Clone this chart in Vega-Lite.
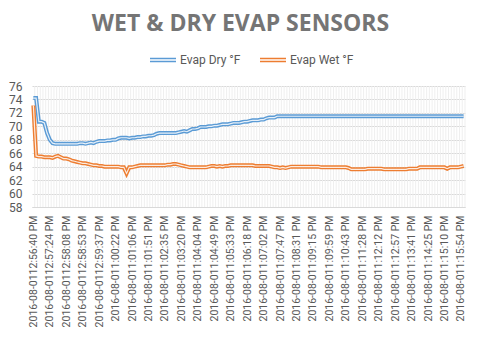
{
  "$schema": "https://vega.github.io/schema/vega-lite/v6.json",
  "width": 433,
  "height": 121,
  "autosize": {"type": "none"},
  "padding": {"left": 32, "top": 86, "right": 15, "bottom": 135},
  "background": "white",
  "title": {
    "text": "WET & DRY EVAP SENSORS",
    "font": "Open Sans",
    "fontSize": 23,
    "fontWeight": "bold",
    "color": "#757575",
    "anchor": "middle",
    "dx": -8,
    "offset": 10
  },
  "config": {
    "view": {"stroke": null},
    "axis": {"labelFont": "Roboto", "labelColor": "#595959"}
  },
  "data": {
    "values": [
      {"i":0,"Evap Dry °F":74.2,"Evap Wet °F":73.1},
      {"i":1,"Evap Dry °F":74.2,"Evap Wet °F":65.6},
      {"i":2,"Evap Dry °F":70.7,"Evap Wet °F":65.5},
      {"i":3,"Evap Dry °F":70.7,"Evap Wet °F":65.5},
      {"i":4,"Evap Dry °F":70.5,"Evap Wet °F":65.4},
      {"i":5,"Evap Dry °F":69.0,"Evap Wet °F":65.4},
      {"i":6,"Evap Dry °F":68.0,"Evap Wet °F":65.4},
      {"i":7,"Evap Dry °F":67.5,"Evap Wet °F":65.3},
      {"i":8,"Evap Dry °F":67.4,"Evap Wet °F":65.5},
      {"i":9,"Evap Dry °F":67.4,"Evap Wet °F":65.6},
      {"i":10,"Evap Dry °F":67.4,"Evap Wet °F":65.4},
      {"i":11,"Evap Dry °F":67.4,"Evap Wet °F":65.2},
      {"i":12,"Evap Dry °F":67.4,"Evap Wet °F":65.2},
      {"i":13,"Evap Dry °F":67.4,"Evap Wet °F":65.1},
      {"i":14,"Evap Dry °F":67.4,"Evap Wet °F":64.9},
      {"i":15,"Evap Dry °F":67.4,"Evap Wet °F":64.8},
      {"i":16,"Evap Dry °F":67.4,"Evap Wet °F":64.7},
      {"i":17,"Evap Dry °F":67.5,"Evap Wet °F":64.6},
      {"i":18,"Evap Dry °F":67.5,"Evap Wet °F":64.5},
      {"i":19,"Evap Dry °F":67.4,"Evap Wet °F":64.5},
      {"i":20,"Evap Dry °F":67.5,"Evap Wet °F":64.4},
      {"i":21,"Evap Dry °F":67.6,"Evap Wet °F":64.3},
      {"i":22,"Evap Dry °F":67.5,"Evap Wet °F":64.2},
      {"i":23,"Evap Dry °F":67.7,"Evap Wet °F":64.2},
      {"i":24,"Evap Dry °F":67.8,"Evap Wet °F":64.1},
      {"i":25,"Evap Dry °F":67.8,"Evap Wet °F":64.1},
      {"i":26,"Evap Dry °F":67.8,"Evap Wet °F":64.0},
      {"i":27,"Evap Dry °F":67.9,"Evap Wet °F":64.0},
      {"i":28,"Evap Dry °F":67.9,"Evap Wet °F":64.0},
      {"i":29,"Evap Dry °F":68.0,"Evap Wet °F":64.0},
      {"i":30,"Evap Dry °F":68.0,"Evap Wet °F":64.0},
      {"i":31,"Evap Dry °F":68.2,"Evap Wet °F":64.0},
      {"i":32,"Evap Dry °F":68.3,"Evap Wet °F":63.9},
      {"i":33,"Evap Dry °F":68.3,"Evap Wet °F":63.9},
      {"i":34,"Evap Dry °F":68.3,"Evap Wet °F":63.0},
      {"i":35,"Evap Dry °F":68.2,"Evap Wet °F":63.9},
      {"i":36,"Evap Dry °F":68.3,"Evap Wet °F":63.9},
      {"i":37,"Evap Dry °F":68.3,"Evap Wet °F":64.0},
      {"i":38,"Evap Dry °F":68.4,"Evap Wet °F":64.1},
      {"i":39,"Evap Dry °F":68.4,"Evap Wet °F":64.2},
      {"i":40,"Evap Dry °F":68.5,"Evap Wet °F":64.2},
      {"i":41,"Evap Dry °F":68.5,"Evap Wet °F":64.2},
      {"i":42,"Evap Dry °F":68.6,"Evap Wet °F":64.2},
      {"i":43,"Evap Dry °F":68.6,"Evap Wet °F":64.2},
      {"i":44,"Evap Dry °F":68.7,"Evap Wet °F":64.2},
      {"i":45,"Evap Dry °F":68.9,"Evap Wet °F":64.2},
      {"i":46,"Evap Dry °F":69.0,"Evap Wet °F":64.2},
      {"i":47,"Evap Dry °F":69.0,"Evap Wet °F":64.2},
      {"i":48,"Evap Dry °F":69.0,"Evap Wet °F":64.2},
      {"i":49,"Evap Dry °F":69.0,"Evap Wet °F":64.3},
      {"i":50,"Evap Dry °F":69.0,"Evap Wet °F":64.3},
      {"i":51,"Evap Dry °F":69.0,"Evap Wet °F":64.4},
      {"i":52,"Evap Dry °F":69.0,"Evap Wet °F":64.4},
      {"i":53,"Evap Dry °F":69.1,"Evap Wet °F":64.3},
      {"i":54,"Evap Dry °F":69.2,"Evap Wet °F":64.2},
      {"i":55,"Evap Dry °F":69.3,"Evap Wet °F":64.1},
      {"i":56,"Evap Dry °F":69.2,"Evap Wet °F":64.0},
      {"i":57,"Evap Dry °F":69.4,"Evap Wet °F":63.9},
      {"i":58,"Evap Dry °F":69.6,"Evap Wet °F":63.9},
      {"i":59,"Evap Dry °F":69.6,"Evap Wet °F":63.9},
      {"i":60,"Evap Dry °F":69.7,"Evap Wet °F":63.9},
      {"i":61,"Evap Dry °F":69.9,"Evap Wet °F":63.9},
      {"i":62,"Evap Dry °F":69.9,"Evap Wet °F":63.9},
      {"i":63,"Evap Dry °F":69.9,"Evap Wet °F":63.9},
      {"i":64,"Evap Dry °F":70.0,"Evap Wet °F":64.0},
      {"i":65,"Evap Dry °F":70.0,"Evap Wet °F":64.1},
      {"i":66,"Evap Dry °F":70.1,"Evap Wet °F":64.1},
      {"i":67,"Evap Dry °F":70.1,"Evap Wet °F":64.0},
      {"i":68,"Evap Dry °F":70.2,"Evap Wet °F":64.1},
      {"i":69,"Evap Dry °F":70.3,"Evap Wet °F":64.0},
      {"i":70,"Evap Dry °F":70.3,"Evap Wet °F":64.1},
      {"i":71,"Evap Dry °F":70.3,"Evap Wet °F":64.1},
      {"i":72,"Evap Dry °F":70.4,"Evap Wet °F":64.2},
      {"i":73,"Evap Dry °F":70.5,"Evap Wet °F":64.2},
      {"i":74,"Evap Dry °F":70.5,"Evap Wet °F":64.2},
      {"i":75,"Evap Dry °F":70.5,"Evap Wet °F":64.2},
      {"i":76,"Evap Dry °F":70.6,"Evap Wet °F":64.2},
      {"i":77,"Evap Dry °F":70.7,"Evap Wet °F":64.2},
      {"i":78,"Evap Dry °F":70.7,"Evap Wet °F":64.2},
      {"i":79,"Evap Dry °F":70.8,"Evap Wet °F":64.2},
      {"i":80,"Evap Dry °F":70.9,"Evap Wet °F":64.2},
      {"i":81,"Evap Dry °F":70.9,"Evap Wet °F":64.1},
      {"i":82,"Evap Dry °F":70.9,"Evap Wet °F":64.1},
      {"i":83,"Evap Dry °F":71.0,"Evap Wet °F":64.1},
      {"i":84,"Evap Dry °F":71.0,"Evap Wet °F":64.1},
      {"i":85,"Evap Dry °F":71.2,"Evap Wet °F":64.1},
      {"i":86,"Evap Dry °F":71.3,"Evap Wet °F":64.1},
      {"i":87,"Evap Dry °F":71.3,"Evap Wet °F":64.0},
      {"i":88,"Evap Dry °F":71.3,"Evap Wet °F":63.9},
      {"i":89,"Evap Dry °F":71.5,"Evap Wet °F":63.9},
      {"i":90,"Evap Dry °F":71.5,"Evap Wet °F":63.8},
      {"i":91,"Evap Dry °F":71.5,"Evap Wet °F":63.9},
      {"i":92,"Evap Dry °F":71.5,"Evap Wet °F":63.8},
      {"i":93,"Evap Dry °F":71.5,"Evap Wet °F":63.9},
      {"i":94,"Evap Dry °F":71.5,"Evap Wet °F":64.0},
      {"i":95,"Evap Dry °F":71.5,"Evap Wet °F":64.0},
      {"i":96,"Evap Dry °F":71.5,"Evap Wet °F":64.0},
      {"i":97,"Evap Dry °F":71.5,"Evap Wet °F":64.0},
      {"i":98,"Evap Dry °F":71.5,"Evap Wet °F":64.0},
      {"i":99,"Evap Dry °F":71.5,"Evap Wet °F":64.0},
      {"i":100,"Evap Dry °F":71.5,"Evap Wet °F":64.0},
      {"i":101,"Evap Dry °F":71.5,"Evap Wet °F":64.0},
      {"i":102,"Evap Dry °F":71.5,"Evap Wet °F":64.0},
      {"i":103,"Evap Dry °F":71.5,"Evap Wet °F":64.0},
      {"i":104,"Evap Dry °F":71.5,"Evap Wet °F":64.0},
      {"i":105,"Evap Dry °F":71.5,"Evap Wet °F":63.9},
      {"i":106,"Evap Dry °F":71.5,"Evap Wet °F":63.9},
      {"i":107,"Evap Dry °F":71.5,"Evap Wet °F":63.9},
      {"i":108,"Evap Dry °F":71.5,"Evap Wet °F":63.9},
      {"i":109,"Evap Dry °F":71.5,"Evap Wet °F":63.9},
      {"i":110,"Evap Dry °F":71.5,"Evap Wet °F":63.9},
      {"i":111,"Evap Dry °F":71.5,"Evap Wet °F":63.9},
      {"i":112,"Evap Dry °F":71.5,"Evap Wet °F":63.9},
      {"i":113,"Evap Dry °F":71.5,"Evap Wet °F":63.9},
      {"i":114,"Evap Dry °F":71.5,"Evap Wet °F":63.9},
      {"i":115,"Evap Dry °F":71.5,"Evap Wet °F":63.8},
      {"i":116,"Evap Dry °F":71.5,"Evap Wet °F":63.6},
      {"i":117,"Evap Dry °F":71.5,"Evap Wet °F":63.6},
      {"i":118,"Evap Dry °F":71.5,"Evap Wet °F":63.6},
      {"i":119,"Evap Dry °F":71.5,"Evap Wet °F":63.6},
      {"i":120,"Evap Dry °F":71.5,"Evap Wet °F":63.6},
      {"i":121,"Evap Dry °F":71.5,"Evap Wet °F":63.6},
      {"i":122,"Evap Dry °F":71.5,"Evap Wet °F":63.7},
      {"i":123,"Evap Dry °F":71.5,"Evap Wet °F":63.7},
      {"i":124,"Evap Dry °F":71.5,"Evap Wet °F":63.7},
      {"i":125,"Evap Dry °F":71.5,"Evap Wet °F":63.7},
      {"i":126,"Evap Dry °F":71.5,"Evap Wet °F":63.7},
      {"i":127,"Evap Dry °F":71.5,"Evap Wet °F":63.7},
      {"i":128,"Evap Dry °F":71.5,"Evap Wet °F":63.6},
      {"i":129,"Evap Dry °F":71.5,"Evap Wet °F":63.6},
      {"i":130,"Evap Dry °F":71.5,"Evap Wet °F":63.6},
      {"i":131,"Evap Dry °F":71.5,"Evap Wet °F":63.6},
      {"i":132,"Evap Dry °F":71.5,"Evap Wet °F":63.6},
      {"i":133,"Evap Dry °F":71.5,"Evap Wet °F":63.6},
      {"i":134,"Evap Dry °F":71.5,"Evap Wet °F":63.6},
      {"i":135,"Evap Dry °F":71.5,"Evap Wet °F":63.6},
      {"i":136,"Evap Dry °F":71.5,"Evap Wet °F":63.6},
      {"i":137,"Evap Dry °F":71.5,"Evap Wet °F":63.7},
      {"i":138,"Evap Dry °F":71.5,"Evap Wet °F":63.7},
      {"i":139,"Evap Dry °F":71.5,"Evap Wet °F":63.7},
      {"i":140,"Evap Dry °F":71.5,"Evap Wet °F":63.7},
      {"i":141,"Evap Dry °F":71.5,"Evap Wet °F":63.9},
      {"i":142,"Evap Dry °F":71.5,"Evap Wet °F":63.9},
      {"i":143,"Evap Dry °F":71.5,"Evap Wet °F":63.9},
      {"i":144,"Evap Dry °F":71.5,"Evap Wet °F":63.9},
      {"i":145,"Evap Dry °F":71.5,"Evap Wet °F":63.9},
      {"i":146,"Evap Dry °F":71.5,"Evap Wet °F":63.9},
      {"i":147,"Evap Dry °F":71.5,"Evap Wet °F":63.9},
      {"i":148,"Evap Dry °F":71.5,"Evap Wet °F":63.9},
      {"i":149,"Evap Dry °F":71.5,"Evap Wet °F":63.9},
      {"i":150,"Evap Dry °F":71.5,"Evap Wet °F":63.9},
      {"i":151,"Evap Dry °F":71.5,"Evap Wet °F":63.7},
      {"i":152,"Evap Dry °F":71.5,"Evap Wet °F":63.9},
      {"i":153,"Evap Dry °F":71.5,"Evap Wet °F":63.9},
      {"i":154,"Evap Dry °F":71.5,"Evap Wet °F":63.9},
      {"i":155,"Evap Dry °F":71.5,"Evap Wet °F":63.9},
      {"i":156,"Evap Dry °F":71.5,"Evap Wet °F":64.0},
      {"i":157,"Evap Dry °F":71.5,"Evap Wet °F":64.1}
    ]
  },
  "layer": [
    {
      "mark": {"type": "rule", "color": "#efefef", "strokeWidth": 1, "xOffset": 1.37},
      "encoding": {
        "x": {
          "field": "i", "type": "quantitative",
          "scale": {"domain": [-0.5, 157.5], "nice": false, "zero": false},
          "axis": {
            "title": null,
            "values": [0,6,12,18,24,30,36,42,48,54,60,66,72,78,84,90,96,102,108,114,120,126,132,138,144,150,156],
            "tickCount": 1000,
            "labelExpr": "['2016-08-0112:56:40 PM','2016-08-0112:57:24 PM','2016-08-0112:58:08 PM','2016-08-0112:58:53 PM','2016-08-0112:59:37 PM','2016-08-011:00:22 PM','2016-08-011:01:06 PM','2016-08-011:01:51 PM','2016-08-011:02:35 PM','2016-08-011:03:20 PM','2016-08-011:04:04 PM','2016-08-011:04:49 PM','2016-08-011:05:33 PM','2016-08-011:06:18 PM','2016-08-011:07:02 PM','2016-08-011:07:47 PM','2016-08-011:08:31 PM','2016-08-011:09:15 PM','2016-08-011:09:59 PM','2016-08-011:10:43 PM','2016-08-011:11:28 PM','2016-08-011:12:12 PM','2016-08-011:12:57 PM','2016-08-011:13:41 PM','2016-08-011:14:25 PM','2016-08-011:15:10 PM','2016-08-011:15:54 PM'][round(datum.value/6)]",
            "labelAngle": -90,
            "labelFontSize": 10.5,
            "labelPadding": 8,
            "labelOverlap": false,
            "labelBound": false,
            "labelFlush": false,
            "ticks": false,
            "grid": false,
            "domainColor": "#d9d9d9",
            "domainWidth": 1
          }
        }
      }
    },
    {
      "transform": [{"fold": ["Evap Dry °F", "Evap Wet °F"], "as": ["series", "temp"]}],
      "mark": {"type": "line", "strokeWidth": 4, "strokeJoin": "miter"},
      "encoding": {
        "x": {"field": "i", "type": "quantitative"},
        "y": {
          "field": "temp", "type": "quantitative",
          "scale": {"domain": [58, 76], "nice": false, "zero": false},
          "axis": {
            "title": null,
            "values": [58,60,62,64,66,68,70,72,74,76],
            "tickCount": 1000,
            "format": "d",
            "labelFontSize": 12,
            "labelPadding": 10,
            "labelOverlap": false,
            "labelBound": false,
            "labelFlush": false,
            "ticks": false,
            "domain": false,
            "gridColor": "#d9d9d9"
          }
        },
        "color": {
          "field": "series", "type": "nominal",
          "scale": {"domain": ["Evap Dry °F", "Evap Wet °F"], "range": ["#5B9BD5", "#ED7D31"]},
          "legend": {
            "title": null,
            "orient": "none",
            "legendX": 117,
            "legendY": -40,
            "direction": "horizontal",
            "symbolType": "M-1,-0.12H1M-1,0.12H1",
            "symbolSize": 676,
            "symbolStrokeWidth": 1.4,
            "symbolFillColor": "transparent",
            "labelFont": "Roboto",
            "labelFontSize": 12,
            "labelColor": "#595959",
            "labelOffset": 3,
            "columnPadding": 16
          }
        }
      }
    },
    {
      "transform": [{"fold": ["Evap Dry °F", "Evap Wet °F"], "as": ["series", "temp"]}],
      "mark": {"type": "line", "strokeWidth": 1.2, "stroke": "white", "strokeOpacity": 0.85, "strokeJoin": "miter"},
      "encoding": {
        "x": {"field": "i", "type": "quantitative"},
        "y": {"field": "temp", "type": "quantitative"},
        "detail": {"field": "series", "type": "nominal"}
      }
    }
  ]
}
